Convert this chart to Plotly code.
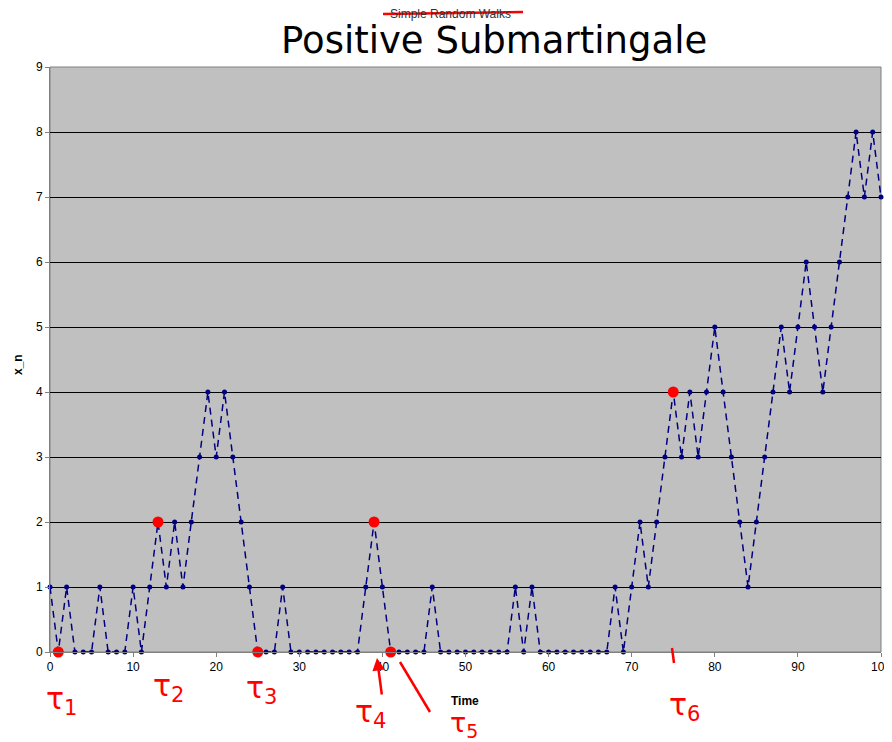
import plotly.graph_objects as go

# ---------------------------------------------------------------------------
# data
# ---------------------------------------------------------------------------
TIME = list(range(0, 101))
X_N = [
    1, 0, 1, 0, 0, 0, 1, 0, 0, 0,   # 0-9
    1, 0, 1, 2, 1, 2, 1, 2, 3, 4,   # 10-19
    3, 4, 3, 2, 1, 0, 0, 0, 1, 0,   # 20-29
    0, 0, 0, 0, 0, 0, 0, 0, 1, 2,   # 30-39
    1, 0, 0, 0, 0, 0, 1, 0, 0, 0,   # 40-49
    0, 0, 0, 0, 0, 0, 1, 0, 1, 0,   # 50-59
    0, 0, 0, 0, 0, 0, 0, 0, 1, 0,   # 60-69
    1, 2, 1, 2, 3, 4, 3, 4, 3, 4,   # 70-79
    5, 4, 3, 2, 1, 2, 3, 4, 5, 4,   # 80-89
    5, 6, 5, 4, 5, 6, 7, 8, 7, 8,   # 90-99
    7,                              # 100
]

# stopping times marked in red
TAU_TIMES = [1, 13, 25, 39, 41, 75]
TAU_VALUES = [X_N[t] for t in TAU_TIMES]
TAU_LABELS = ["τ<sub>1</sub>", "τ<sub>2</sub>", "τ<sub>3</sub>",
              "τ<sub>4</sub>", "τ<sub>5</sub>", "τ<sub>6</sub>"]

X_TICKS = list(range(0, 101, 10))
Y_TICKS = list(range(0, 10))

# plot-area geometry in window pixels (for the hand-drawn extras)
WIN_W, WIN_H = 892, 742
OFF = 8  # default body margin of the html page
L, R, T, B = 50, 881, 67, 652


def px(x):
    return (x - L) / (R - L)


def py(y):
    return (B - y) / (B - T)


NAVY = "#000080"
RED = "#ff0000"

fig = go.Figure()

fig.add_trace(go.Scatter(
    x=TIME, y=X_N,
    mode="lines+markers",
    line=dict(color=NAVY, width=1.5, dash="7px,5px"),
    marker=dict(color=NAVY, size=5),
    showlegend=False,
    cliponaxis=False,
))

fig.add_trace(go.Scatter(
    x=TAU_TIMES, y=TAU_VALUES,
    mode="markers",
    marker=dict(color=RED, size=11),
    showlegend=False,
    cliponaxis=False,
))

# -- hand-written labels -----------------------------------------------------
label_pos = [(61, 700), (168, 687), (261, 689), (370, 713), (464, 724), (684, 706)]
label_size = [30, 30, 30, 30, 27, 30]
annotations = []
for lab, (lx, ly), sz in zip(TAU_LABELS, label_pos, label_size):
    annotations.append(dict(
        text=lab, xref="paper", yref="paper", x=px(lx), y=py(ly),
        showarrow=False, font=dict(family="DejaVu Sans", size=sz, color=RED),
        xanchor="center", yanchor="middle",
    ))

# tau_4 arrow pointing up to the axis
annotations.append(dict(
    text="", xref="paper", yref="paper", x=px(377), y=py(658),
    ax=5, ay=38, showarrow=True, arrowhead=2, arrowsize=1,
    arrowwidth=2.5, arrowcolor=RED,
))

annotations += [
    dict(text="Simple Random Walks", xref="paper", yref="paper",
         x=px(450), y=py(14), showarrow=False,
         xanchor="center", yanchor="middle",
         font=dict(family="Liberation Sans", size=12, color="#333333")),
    dict(text="Positive Submartingale", xref="paper", yref="paper",
         x=px(494), y=py(41), showarrow=False,
         xanchor="center", yanchor="middle",
         font=dict(family="DejaVu Sans", size=37, color="black")),
    # axis titles
    dict(text="<b>Time</b>", xref="paper", yref="paper",
         x=px(465), y=py(701), showarrow=False,
         xanchor="center", yanchor="middle", font=dict(size=12)),
    dict(text="<b>x_n</b>", xref="paper", yref="paper",
         x=px(18), y=py(365), showarrow=False, textangle=-90,
         xanchor="center", yanchor="middle", font=dict(size=12)),
]

shapes = [
    # strike-through on the old title
    dict(type="line", xref="paper", yref="paper",
         x0=px(383), x1=px(523), y0=py(14), y1=py(12),
         line=dict(color=RED, width=2.5)),
    # tau_5 pointer
    dict(type="line", xref="paper", yref="paper",
         x0=px(400), x1=px(430), y0=py(662), y1=py(712),
         line=dict(color=RED, width=2.5)),
    # tau_6 tick
    dict(type="line", xref="paper", yref="paper",
         x0=px(672), x1=px(674), y0=py(648), y1=py(663),
         line=dict(color=RED, width=2.5)),
    # plot border
    dict(type="rect", xref="paper", yref="paper", x0=0, x1=1, y0=0, y1=1,
         line=dict(color="#808080", width=1), layer="below"),
]

fig.update_layout(
    width=WIN_W - OFF, height=WIN_H - OFF,
    margin=dict(l=L - OFF, r=WIN_W - R, t=T - OFF, b=WIN_H - B),
    paper_bgcolor="white",
    plot_bgcolor="#c0c0c0",
    font=dict(family="Liberation Sans", size=12, color="black"),
    annotations=annotations,
    shapes=shapes,
    xaxis=dict(
        range=[0, 100], tickvals=X_TICKS, showgrid=False, zeroline=False,
        ticks="outside", ticklen=4, tickcolor="#808080", automargin=False,
        ticklabeloverflow="allow",
        showline=True, linecolor="#808080", linewidth=1,
    ),
    yaxis=dict(
        range=[0, 9], tickvals=Y_TICKS, showgrid=True, gridcolor="black",
        gridwidth=1, zeroline=False, automargin=False,
        ticks="outside", ticklen=4, tickcolor="#808080",
        showline=True, linecolor="#808080", linewidth=1,
    ),
)

fig.write_html("out.html")
